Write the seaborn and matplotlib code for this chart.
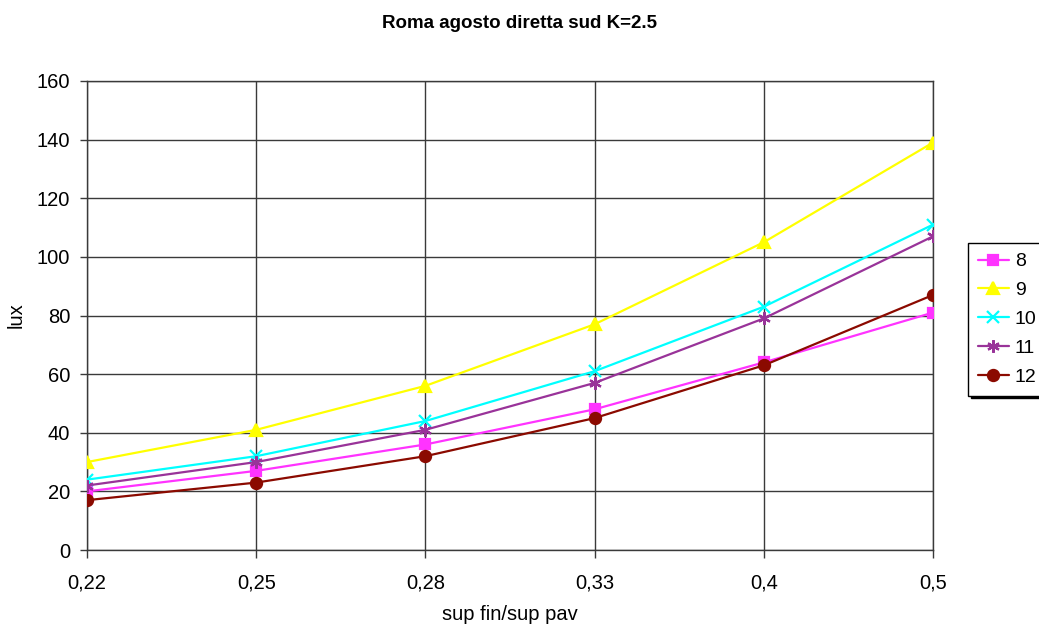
import pandas as pd
import matplotlib.pyplot as plt
import seaborn as sns

# --- DATA ---
ratios = ['0,22', '0,25', '0,28', '0,33', '0,4', '0,5']
hours = ['8', '9', '10', '11', '12']
lux_8 = [20, 27, 36, 48, 64, 81]
lux_9 = [30, 41, 56, 77, 105, 139]
lux_10 = [24, 32, 44, 61, 83, 111]
lux_11 = [22, 30, 41, 57, 79, 107]
lux_12 = [17, 23, 32, 45, 63, 87]

series = {'8': lux_8, '9': lux_9, '10': lux_10, '11': lux_11, '12': lux_12}
rows = []
for h, vals in series.items():
    for i, v in enumerate(vals):
        rows.append({'pos': i, 'ratio': ratios[i], 'ora': h, 'lux': v})
df = pd.DataFrame(rows)

# --- STYLE ---
colors = {'8': '#FF33FF', '9': '#FFFF00', '10': '#00FFFF', '11': '#993399', '12': '#8B0A00'}
markers = {'8': 's', '9': '^', '10': 'x', '11': (6, 2, 0), '12': 'o'}
sizes = {'8': 6.5, '9': 8, '10': 8, '11': 9, '12': 8}
GRID = '#3a3a3a'

sns.set_style("white")
plt.rcParams['font.family'] = ['Liberation Sans', 'DejaVu Sans']
plt.rcParams['text.color'] = 'black'
plt.rcParams['axes.labelcolor'] = 'black'

fig = plt.figure(figsize=(10.39, 6.28), dpi=100)
ax = fig.add_axes([87 / 1039, 1 - 550 / 628, (933 - 87) / 1039, (550 - 81) / 628])

for h in hours:
    sub = df[df['ora'] == h]
    sns.lineplot(data=sub, x='pos', y='lux', ax=ax, color=colors[h], marker=markers[h],
                 markersize=sizes[h], markeredgecolor=colors[h], markeredgewidth=1.6,
                 linewidth=1.6, label=h, zorder=3)

ax.set_xlim(0, len(ratios) - 1)
ax.set_ylim(0, 160)
ax.set_xticks(range(len(ratios)))
ax.set_xticklabels(ratios)
ax.set_yticks(range(0, 161, 20))
ax.grid(True, color=GRID, linewidth=1)
ax.tick_params(axis='y', direction='out', length=5, width=1, color=GRID,
               labelsize=14.5, labelcolor='black', left=True, pad=7)
ax.tick_params(axis='x', direction='out', length=6, width=1, color=GRID,
               labelsize=14.5, labelcolor='black', bottom=True, pad=11)
for s in ax.spines.values():
    s.set_color(GRID)
    s.set_linewidth(1)

ax.set_xlabel('sup fin/sup pav', fontsize=14.5, labelpad=9)
ax.set_ylabel('lux', fontsize=14.5, labelpad=8)
fig.text(0.5, 1 - 24 / 628, 'Roma agosto diretta sud K=2.5', ha='center', va='center',
         fontsize=13.5, fontweight='bold', color='black')

leg = ax.legend(loc='upper left', bbox_to_anchor=(968 / 1039, 1 - 243 / 628),
                bbox_transform=fig.transFigure, borderaxespad=0, fontsize=14,
                frameon=True, fancybox=False, edgecolor='black', handlelength=1.6,
                handletextpad=0.3, labelspacing=0.58, borderpad=0.5,
                shadow={'color': 'black', 'alpha': 1})
leg.get_frame().set_linewidth(1)
for t in leg.get_texts():
    t.set_color('black')

plt.savefig('out.png', dpi=100)
